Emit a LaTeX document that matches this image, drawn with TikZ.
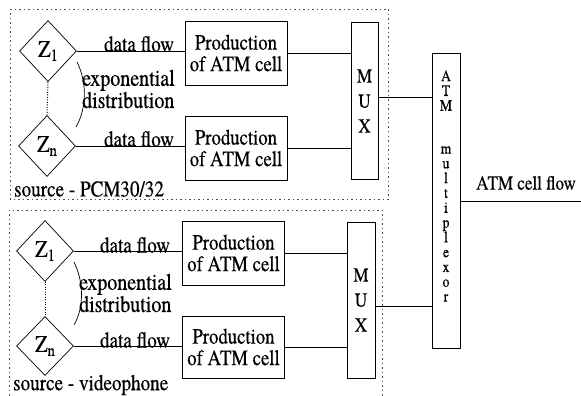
\documentclass[tikz,border=0pt]{standalone}
\usepackage{fontspec}
\setmainfont{TeX Gyre Termes}[FakeStretch=0.85,FakeBold=0.4]
\usetikzlibrary{shapes.geometric}
\newcommand{\txtfont}{\fontsize{22}{21.5}\selectfont}
\newcommand{\zsub}[1]{Z\raisebox{-4pt}{\fontsize{17}{17}\selectfont #1}}
\begin{document}
\begin{tikzpicture}[x=1pt,y=-1pt]
\tikzset{
 frame/.style={draw=black!70, dash pattern=on 1.5pt off 3pt, line width=0.8pt},
 src/.style={diamond, draw, line width=0.7pt, minimum width=57pt, minimum height=61pt, inner sep=0pt, font=\fontsize{24}{24}\selectfont},
 prod/.style={draw, line width=0.7pt, minimum width=102pt, minimum height=64pt, inner sep=0pt, align=center, font=\txtfont},
 muxbox/.style={draw, line width=0.7pt, minimum width=27pt, minimum height=157pt, inner sep=0pt, align=center, font=\fontsize{20}{25}\selectfont},
 lbl/.style={inner sep=0pt, font=\fontsize{22.5}{20}\selectfont},
 explbl/.style={inner sep=0pt, anchor=west, align=left, font=\fontsize{23.5}{16}\selectfont},
 wire/.style={line width=0.7pt},
 dots/.style={line width=1pt, dash pattern=on 1pt off 1.5pt}
}
\useasboundingbox (0,0) rectangle (581,396);
% frames
\draw[frame] (10,9) rectangle (388,199);
\draw[frame] (9,400) -- (9,210) -- (382,210) -- (382,400);
% ---------- top group ----------
\node[src] (t1) at (48,51) {\zsub{1}};
\node[src] (tn) at (47,146) {\zsub{n}};
\draw[dots] (t1.south) -- (tn.north);
\draw[wire] (77,62) .. controls (87,82) and (87,108) .. (76,127);
\node[explbl] (texp) at (82,89) {exponential\\distribution};
\node[prod] (tp1) at (236,53) {Production\\of ATM cell};
\node[prod] (tp2) at (236,148) {Production\\of ATM cell};
\node[muxbox] (tm) at (364.5,101) {M\\U\\X};
\draw[wire] (t1.east) -- (t1.east -| tp1.west);
\draw[wire] (tn.east) -- (tn.east -| tp2.west);
\node[lbl] (tdf1) at (139,44) {data flow};
\node[lbl] (tdf2) at (139,139) {data flow};
\draw[wire] (tp1.east) -- (tp1.east -| tm.west);
\draw[wire] (tp2.east) -- (tp2.east -| tm.west);
\node[lbl, anchor=west] (tsrc) at (14,189) {source - PCM30/32};
% ---------- bottom group ----------
\node[src] (b1) at (45,251) {\zsub{1}};
\node[src, minimum height=59pt] (bn) at (45,346) {\zsub{n}};
\draw[dots] (b1.south) -- (bn.north);
\draw[wire] (74,262) .. controls (84,282) and (84,308) .. (74,325);
\node[explbl] (bexp) at (79,293) {exponential\\distribution};
\node[prod] (bp1) at (233.5,253) {Production\\of ATM cell};
\node[prod, minimum height=62pt] (bp2) at (233.5,347) {Production\\of ATM cell};
\node[muxbox, minimum height=156pt, minimum width=28pt] (bm) at (361,300) {M\\U\\X};
\draw[wire] (b1.east) -- (b1.east -| bp1.west);
\draw[wire] (bn.east) -- (bn.east -| bp2.west);
\node[lbl] (bdf1) at (135,245) {data flow};
\node[lbl] (bdf2) at (135,340) {data flow};
\draw[wire] (bp1.east) -- (bp1.east -| bm.west);
\draw[wire] (bp2.east) -- (bp2.east -| bm.west);
\node[lbl, anchor=west] (bsrc) at (13,385) {source - videophone};
% ---------- ATM multiplexor ----------
\node[draw, line width=0.7pt, minimum width=28pt, minimum height=295pt, inner sep=0pt] (atm) at (446,200.5) {};
\node[inner sep=0pt, align=center, font=\fontsize{16}{14.8}\selectfont] (atmt) at (446,186) {A\\T\\M\\[28pt]m\\u\\l\\t\\i\\p\\l\\e\\x\\o\\r};
\coordinate (tmo) at (tm.east |- 0,97);
\coordinate (bmo) at (bm.east |- 0,306);
\draw[wire] (tmo) -- (tmo -| atm.west);
\draw[wire] (bmo) -- (bmo -| atm.west);
\coordinate (outend) at (581,201);
\draw[wire] (atm.east |- outend) -- (outend);
\node[lbl, font=\fontsize{20}{19}\selectfont] (flow) at (526,183) {ATM cell flow};
\end{tikzpicture}
\end{document}
